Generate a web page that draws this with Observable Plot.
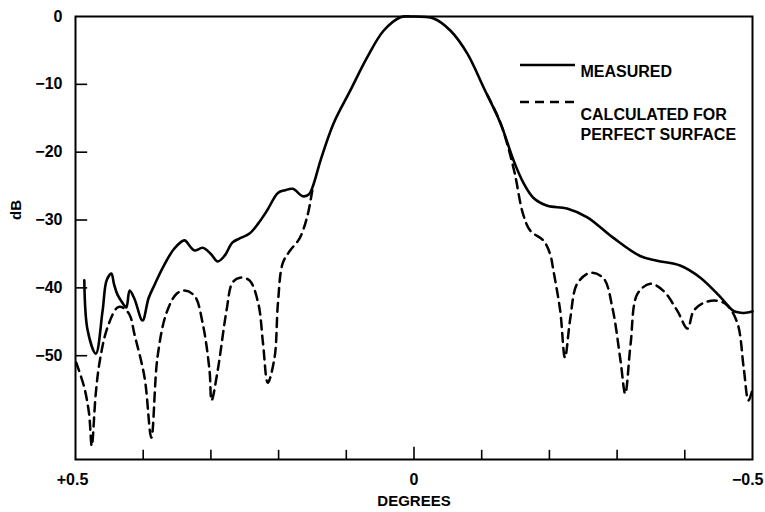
<!DOCTYPE html>
<html><head><meta charset="utf-8">
<script src="https://cdn.jsdelivr.net/npm/d3@7"></script>
<script src="https://cdn.jsdelivr.net/npm/@observablehq/plot@0.6"></script>
<style>body{margin:0;background:#fff}</style>
</head><body><div id="chart"></div>
<script>
// Measured pattern (solid)
const measuredDeg = [0.487,0.482,0.470,0.460,0.454,0.447,0.443,0.438,0.430,0.425,0.420,0.413,0.401,0.392,0.383,0.371,0.354,0.339,0.330,0.324,0.312,0.300,0.290,0.280,0.268,0.255,0.243,0.230,0.217,0.201,0.190,0.179,0.164,0.155,0.149,0.138,0.119,0.094,0.069,0.045,0.020,0.005,-0.029,-0.054,-0.079,-0.103,-0.128,-0.147,-0.162,-0.177,-0.197,-0.226,-0.256,-0.294,-0.334,-0.359,-0.393,-0.423,-0.453,-0.472,-0.487,-0.5];
const measuredDb  = [-38.9,-46.3,-49.7,-43.4,-38.9,-37.9,-39.5,-41.0,-42.3,-42.9,-40.4,-41.6,-44.8,-41.5,-39.5,-37.0,-34.2,-33.0,-34.0,-34.5,-34.1,-35.0,-36.1,-35.3,-33.3,-32.6,-32.0,-30.5,-28.6,-26.0,-25.6,-25.4,-26.5,-26.2,-24.9,-21.2,-15.8,-10.9,-6.0,-2.1,-0.1,0.0,-0.3,-2.1,-5.5,-10.5,-15.8,-21.2,-24.6,-26.8,-27.9,-28.3,-29.6,-32.6,-35.3,-36.0,-36.7,-38.5,-41.4,-43.4,-43.7,-43.5];

// Calculated for perfect surface (dashed), left side
const calcLeftDeg = [0.499,0.487,0.480,0.476,0.470,0.464,0.453,0.438,0.430,0.420,0.413,0.398,0.388,0.379,0.366,0.351,0.339,0.324,0.312,0.302,0.299,0.290,0.277,0.268,0.257,0.243,0.230,0.223,0.216,0.206,0.201,0.194,0.183,0.169,0.158,0.151,0.149];
const calcLeftDb  = [-51.0,-54.7,-58.5,-63.3,-55.5,-50.7,-45.9,-42.9,-42.9,-44.0,-46.8,-53.2,-62.1,-50.3,-43.8,-40.9,-40.4,-41.2,-45.3,-52.2,-56.6,-52.2,-43.4,-39.2,-38.5,-38.9,-42.3,-48.2,-54.0,-50.3,-42.3,-36.4,-34.5,-32.7,-29.6,-26.1,-24.9];

// Calculated for perfect surface (dashed), right side
const calcRightDeg = [-0.108,-0.127,-0.138,-0.149,-0.161,-0.172,-0.191,-0.201,-0.206,-0.216,-0.223,-0.231,-0.241,-0.260,-0.280,-0.293,-0.305,-0.312,-0.320,-0.330,-0.349,-0.368,-0.389,-0.404,-0.413,-0.428,-0.448,-0.463,-0.478,-0.487,-0.494,-0.5];
const calcRightDb  = [-11.5,-15.5,-18.9,-23.2,-29.1,-31.6,-33.0,-35.0,-37.5,-43.4,-50.3,-44.4,-39.4,-37.8,-38.6,-42.9,-50.7,-55.6,-48.2,-40.9,-39.4,-40.4,-43.4,-46.0,-43.4,-42.2,-41.9,-42.6,-45.3,-51.8,-56.6,-55.0];

const xTickValues = [0.4,0.3,0.2,0.1,0,-0.1,-0.2,-0.3,-0.4];
const xLabelValues = [0.5, 0, -0.5];
const xLabelTexts = ["+0.5", "0", "\u22120.5"];
const yTickValues = [-10,-20,-30,-40,-50];
const yLabelValues = [0,-10,-20,-30,-40,-50];
const yLabelTexts = ["0","\u221210","\u221220","\u221230","\u221240","\u221250"];
const legendLabels = ["MEASURED", "CALCULATED FOR\nPERFECT SURFACE"];

const toRows = (xs, ys) => xs.map((x, i) => ({x, y: ys[i]}));
const measured = toRows(measuredDeg, measuredDb);
const calcLeft = toRows(calcLeftDeg, calcLeftDb);
const calcRight = toRows(calcRightDeg, calcRightDb);

const yMin = -65.3;
const fontFamily = "'Liberation Sans', Arial, Helvetica, sans-serif";
const dash = "9,6";

const legendLines = (index, scales, values, dims) => {
  const g = d3.create("svg:g");
  g.append("line").attr("x1", 520).attr("x2", 575).attr("y1", 65).attr("y2", 65)
    .attr("stroke", "#000").attr("stroke-width", 2.5);
  g.append("line").attr("x1", 520).attr("x2", 578).attr("y1", 102).attr("y2", 102)
    .attr("stroke", "#000").attr("stroke-width", 2.5).attr("stroke-dasharray", dash);
  return g.node();
};

const plot = Plot.plot({
  width: 765, height: 512,
  marginLeft: 75, marginRight: 13, marginTop: 16, marginBottom: 53,
  style: {fontFamily, fontSize: "15px", fontWeight: "bold", color: "#000", background: "#fff", overflow: "visible"},
  x: {domain: [0.5, -0.5]},
  y: {domain: [yMin, 0]},
  marks: [
    Plot.axisY({ticks: yLabelValues, tickSize: 0, tickPadding: 13, fontSize: 16, tickFormat: d => yLabelTexts[yLabelValues.indexOf(d)], label: null}),
    Plot.axisX({ticks: xLabelValues.slice(0, 1), tickSize: 0, tickPadding: 14, fontSize: 16, dx: -3, tickFormat: () => xLabelTexts[0], label: null}),
    Plot.axisX({ticks: xLabelValues.slice(1, 2), tickSize: 0, tickPadding: 14, fontSize: 16, tickFormat: () => xLabelTexts[1], label: null}),
    Plot.axisX({ticks: xLabelValues.slice(2, 3), tickSize: 0, tickPadding: 14, fontSize: 16, textAnchor: "end", dx: 11, tickFormat: () => xLabelTexts[2], label: null}),
    Plot.ruleX(xTickValues, {x: d => d, y1: yMin, y2: d => yMin + (d === 0 ? 1.8 : 1.35), stroke: "#000", strokeWidth: 1.6}),
    Plot.ruleY(yTickValues, {y: d => d, x1: 0.5, x2: 0.5 - 0.018, stroke: "#000", strokeWidth: 1.6}),
    Plot.frame({stroke: "#000", strokeWidth: 2}),
    Plot.line(calcLeft, {x: "x", y: "y", curve: "catmull-rom", stroke: "#000", strokeWidth: 2.5, strokeDasharray: dash}),
    Plot.line(calcRight, {x: "x", y: "y", curve: "catmull-rom", stroke: "#000", strokeWidth: 2.5, strokeDasharray: dash}),
    Plot.line(measured, {x: "x", y: "y", curve: "catmull-rom", stroke: "#000", strokeWidth: 2.6}),
    Plot.text(["dB"], {frameAnchor: "left", y: () => -30, rotate: -90, dx: -59, fontSize: 15}),
    Plot.text(["DEGREES"], {frameAnchor: "bottom", dy: 46, fontSize: 15}),
    Plot.text([legendLabels[0]], {frameAnchor: "top-left", dx: 505, dy: 49, textAnchor: "start", fontSize: 16}),
    Plot.text([legendLabels[1]], {frameAnchor: "top-left", dx: 505, dy: 89, textAnchor: "start", fontSize: 16, lineHeight: 1.25}),
    legendLines
  ]
});
document.getElementById("chart").appendChild(plot);
</script>
</body></html>
